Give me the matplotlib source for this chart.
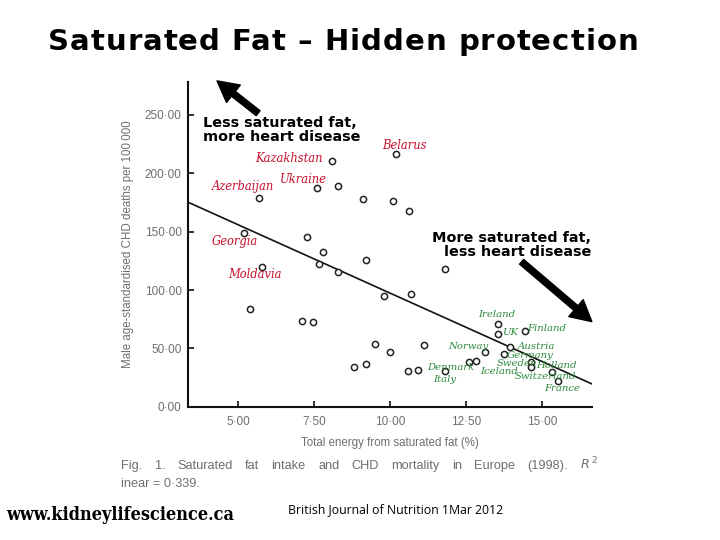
import matplotlib
matplotlib.use("Agg")
import matplotlib.pyplot as plt

# values (Europe, 1998)
sat_fat = [10.19, 8.08, 7.59, 8.30, 5.68, 9.10, 10.10, 10.61, 5.18, 7.27,
           7.78, 9.20, 5.78, 7.66, 8.29, 11.80, 5.38, 7.09, 7.47, 9.80,
           10.70, 9.50, 10.00, 8.81, 9.20, 10.60, 10.90, 11.10, 11.80, 12.60,
           12.82, 13.12, 13.53, 13.53, 14.43, 13.94, 13.74, 14.64, 14.64, 15.33,
           15.53]
chd_deaths = [216.3, 210.3, 187.2, 189.2, 179.1, 178.0, 176.0, 168.0, 149.0, 145.2,
              132.3, 126.0, 119.7, 122.3, 115.2, 118.0, 83.7, 73.7, 72.6, 94.9,
              96.6, 53.7, 46.9, 33.8, 36.6, 30.9, 31.7, 52.9, 30.6, 38.0,
              39.2, 46.9, 70.6, 62.6, 64.6, 51.2, 44.9, 38.0, 34.0, 30.0,
              21.7]
fit_intercept = 214.6
fit_slope = -11.73

x_ticks = [5.0, 7.5, 10.0, 12.5, 15.0]
y_ticks = [0, 50, 100, 150, 200, 250]

red_countries = ["Belarus", "Kazakhstan", "Ukraine", "Azerbaijan", "Georgia", "Moldavia"]
green_countries = ["Ireland", "UK", "Finland", "Norway", "Austria", "Germany", "Sweden",
                   "Holland", "Denmark", "Iceland", "Switzerland", "Italy", "France"]

# where the handwritten labels sit (data coords, left edge / centre line)
red_pos = [(9.75, 223.5), (5.55, 212.3), (6.37, 194.3), (4.13, 188.3),
           (4.13, 141.2), (4.66, 113.7)]
green_pos = [(12.88, 78.6), (13.67, 63.2), (14.50, 66.6), (11.90, 52.0),
             (14.20, 51.8), (13.84, 43.8), (13.50, 37.2), (14.80, 35.2),
             (11.21, 34.0), (12.95, 30.5), (14.10, 25.8), (11.41, 22.9),
             (15.06, 15.2)]

GREY = "#6e6e6e"
RED = "#c8102e"
GREEN = "#2e8b3e"
W, H = 720, 540


def fmt(v):
    return f"{v:.2f}".replace(".", "\u00b7")


def justified(fig, words, x0, x1, y, **kw):
    # spread words evenly between x0 and x1 (pixels), like a justified caption line
    r = fig.canvas.get_renderer()
    texts = [fig.text(0, y / H, w, va="baseline", **kw) for w in words]
    widths = [t.get_window_extent(r).width for t in texts]
    gap = (x1 - x0 - sum(widths)) / (len(words) - 1)
    x = x0
    for t, w in zip(texts, widths):
        t.set_x(x / W)
        x += w + gap


def spaced(fig, s, x0, x1, y, **kw):
    # letter-spaced title: stretch the string to run from x0 to x1 (pixels)
    r = fig.canvas.get_renderer()
    probe = fig.text(0, 0, "", **kw)

    def width(t):
        probe.set_text(t)
        return probe.get_window_extent(r).width

    lefts = [width(s[:i + 1]) - width(ch) for i, ch in enumerate(s)]
    extra = (x1 - x0 - width(s)) / (len(s) - 1)
    probe.remove()
    for i, ch in enumerate(s):
        if ch != " ":
            fig.text((x0 + lefts[i] + i * extra) / W, y / H, ch, va="baseline", **kw)


fig = plt.figure(figsize=(7.2, 5.4), dpi=100)
ax = fig.add_axes([188 / W, 1 - 406.7 / H, (592 - 188) / W, (406.7 - 81.7) / H])

ax.scatter(sat_fat, chd_deaths, s=20, facecolors="white", edgecolors="#222222",
           linewidths=1.1, zorder=3)
xl = (3.355, 16.635)
ax.plot(xl, [fit_intercept + fit_slope * v for v in xl], color="#111111", lw=1.2, zorder=2)

ax.set_xlim(*xl)
ax.set_ylim(0, 278.5)
ax.set_xticks(x_ticks, [fmt(v) for v in x_ticks])
ax.set_yticks(y_ticks, [fmt(v) for v in y_ticks])
ax.tick_params(direction="in", length=4, width=1.2, colors="#111111",
               labelcolor=GREY, labelsize=8.5, labelfontfamily="Liberation Sans")
ax.tick_params(axis="x", pad=6.5)
ax.tick_params(axis="y", pad=4.5)
for s in ("top", "right"):
    ax.spines[s].set_visible(False)
for s in ("left", "bottom"):
    ax.spines[s].set_linewidth(1.5)
    ax.spines[s].set_color("#111111")

ax.set_xlabel("Total energy from saturated fat (%)", color=GREY, fontsize=8.3,
              family="Liberation Sans", labelpad=7)
ax.set_ylabel("Male age-standardised CHD deaths per 100\u2009000", color=GREY, fontsize=8.3,
              family=["Liberation Sans", "DejaVu Sans"], labelpad=8)

# hand-written country labels
for name, (x, y) in zip(red_countries, red_pos):
    ax.text(x, y, name, color=RED, fontsize=8.3, style="italic", family="DejaVu Serif",
            va="center", ha="left", zorder=4)
for name, (x, y) in zip(green_countries, green_pos):
    ax.text(x, y, name, color=GREEN, fontsize=7.3, style="italic", family="DejaVu Serif",
            va="center", ha="left", zorder=4)

# call-outs
ax.text(3.84, 248.8, "Less saturated fat,\nmore heart disease", fontsize=10.4,
        fontweight="bold", family="DejaVu Sans", va="top", ha="left", linespacing=1.0)
ax.text(16.6, 150.2, "More saturated fat,\nless heart disease", fontsize=10.4,
        fontweight="bold", family="DejaVu Sans", va="top", ha="right",
        multialignment="right", linespacing=1.0)
arrow = dict(facecolor="black", edgecolor="black", width=4.5, headwidth=16, headlength=15)
ax.annotate("", xy=(4.31, 279.2), xytext=(5.66, 251.5), arrowprops=arrow,
            annotation_clip=False)
ax.annotate("", xy=(16.63, 72.9), xytext=(14.32, 124.2), arrowprops=arrow,
            annotation_clip=False)

spaced(fig, "Saturated Fat \u2013 Hidden protection", 48, 638, H - 50, fontsize=21,
       fontweight="bold", family="DejaVu Sans")

cap = dict(color=GREY, fontsize=9.2, family="Liberation Sans")
justified(fig, ["Fig.", "1.", "Saturated", "fat", "intake", "and", "CHD", "mortality",
                "in", "Europe", "(1998).", r"$R^{\,2}$"], 121, 598, H - 469, **cap)
fig.text(121 / W, 1 - 487 / H, "inear = 0\u00b7339.", va="baseline", **cap)

fig.text(288 / W, 1 - 510 / H, "British Journal of Nutrition 1Mar 2012", fontsize=8.8,
         family="Open Sans", va="center", ha="left")
fig.text(6 / W, 1 - 515 / H, "www.kidneylifescience.ca", fontsize=13,
         fontweight="bold", family=["DejaVu Serif Condensed", "DejaVu Serif"],
         fontstretch="condensed", va="center", ha="left")

fig.savefig("out.png", dpi=100)
